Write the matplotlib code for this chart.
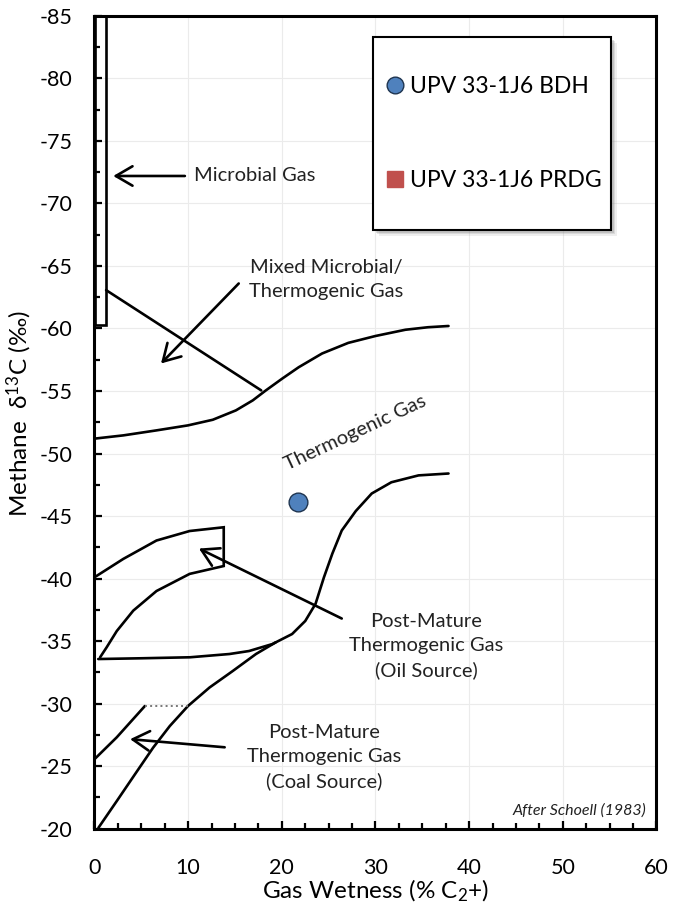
import matplotlib
matplotlib.use("Agg")
from matplotlib import pyplot as plt
from matplotlib.patches import Rectangle

plt.rcParams['font.family'] = ['Lato', 'DejaVu Sans']
plt.rcParams['mathtext.fontset'] = 'custom'
plt.rcParams['mathtext.rm'] = 'Lato'
plt.rcParams['mathtext.it'] = 'Lato:italic'
plt.rcParams['axes.unicode_minus'] = False

# sample points
bdh_x = [21.7]
bdh_y = [-46.1]
prdg_x = []
prdg_y = []

# Schoell (1983) field boundaries
microbial_x = [0.1, 0.1, 1.24, 1.24]
microbial_y = [-85, -60.3, -60.3, -85]

mixed_x = [1.24, 17.8]
mixed_y = [-63.07, -55.05]

upper_thermo_x = [0.0, 3.08, 6.62, 9.98, 12.63, 15.1, 16.9, 18.3, 20.06, 21.8, 24.3, 27.1,
                  30.0, 33.2, 35.6, 37.8]
upper_thermo_y = [-51.19, -51.45, -51.85, -52.25, -52.7, -53.45, -54.25, -55.05, -56.0, -56.9,
                  -58.0, -58.85, -59.4, -59.9, -60.1, -60.2]

oil_x = [0.4, 5.0, 10.2, 14.4, 16.5, 19.0, 21.1, 22.5, 23.6, 24.5, 25.4, 26.4, 27.9, 29.6,
         31.7, 34.6, 37.8]
oil_y = [-33.56, -33.62, -33.7, -33.96, -34.2, -34.76, -35.56, -36.6, -37.97, -40.1, -42.0,
         -43.84, -45.4, -46.8, -47.7, -48.25, -48.4]

coal_x = [0.42, 2.38, 4.32, 6.26, 8.04, 9.98, 12.28, 14.76, 17.24, 19.36]
coal_y = [-20.06, -22.2, -24.34, -26.47, -28.2, -29.8, -31.28, -32.6, -33.96, -34.9]

pm_oil_x = [0.0, 3.08, 6.62, 10.16, 13.8, 13.8, 10.16, 6.62, 4.14, 2.38, 1.3, 0.6]
pm_oil_y = [-40.1, -41.57, -43.04, -43.8, -44.1, -41.0, -40.37, -39.0, -37.43, -35.8, -34.5, -33.7]

pm_coal_x = [0.07, 2.38, 5.38]
pm_coal_y = [-25.6, -27.3, -29.8]
pm_coal_top_x = [5.38, 10.0]
pm_coal_top_y = [-29.8, -29.8]

# labels: (text, x, y)
labels = [
    ("Microbial Gas", 10.6, -72.2),
    ("Mixed Microbial/\nThermogenic Gas", 24.75, -63.9),
    ("Post-Mature\nThermogenic Gas\n(Oil Source)", 35.4, -34.6),
    ("Post-Mature\nThermogenic Gas\n(Coal Source)", 24.5, -25.7),
]
# arrows: (tail, tip)
arrows = [
    ((9.65, -72.2), (2.0, -72.2)),
    ((15.4, -63.6), (7.1, -57.2)),
    ((26.4, -36.8), (11.15, -42.4)),
    ((13.9, -26.5), (3.8, -27.15)),
]

fig = plt.figure(figsize=(6.73, 9.07), dpi=100)
ax = fig.add_axes([0.1404, 0.0865, 0.835, 0.8959])

lw = 1.9
line_kw = dict(color='k', lw=lw, solid_joinstyle='round', solid_capstyle='round')
ax.plot(microbial_x, microbial_y, clip_on=False, **dict(line_kw, solid_joinstyle='miter'))
ax.plot(mixed_x, mixed_y, **line_kw)
ax.plot(upper_thermo_x, upper_thermo_y, **line_kw)
ax.plot(oil_x, oil_y, **line_kw)
ax.plot(coal_x, coal_y, **line_kw)
ax.plot(pm_oil_x, pm_oil_y, **dict(line_kw, solid_joinstyle='miter'))
ax.plot(pm_coal_x, pm_coal_y, **line_kw)
ax.plot(pm_coal_top_x, pm_coal_top_y, color='#777777', lw=1.4, ls=':')

for (tail, tip) in arrows:
    ax.annotate('', xy=tip, xytext=tail,
                arrowprops=dict(arrowstyle='->,head_length=0.6,head_width=0.35',
                                lw=1.9, color='k', mutation_scale=20,
                                shrinkA=0, shrinkB=0))

ax.text(labels[0][1], labels[0][2], labels[0][0], fontsize=14.5, ha='left', va='center', color='#222222')
for (txt, x, y) in labels[1:]:
    ax.text(x, y, txt, fontsize=14.5, ha='center', va='center', multialignment='center',
            linespacing=1.5, color='#222222')
ax.text(27.9, -51.7, "Thermogenic Gas", fontsize=14.5, rotation=25, ha='center', va='center',
        rotation_mode='anchor', color='#222222')
ax.text(58.9, -21.4, "After Schoell (1983)", fontsize=11.5, style='italic', ha='right', va='center',
        color='#222222')

ax.plot(bdh_x, bdh_y, 'o', color='#4F81BD', mec='#1F3550', mew=1.0, ms=13.5,
        label='UPV 33-1J6 BDH', zorder=5)
ax.plot(prdg_x, prdg_y, 's', color='#C0504D', mec='#C0504D', ms=13.5,
        label='UPV 33-1J6 PRDG', zorder=5)

ax.set_xlim(0, 60)
ax.set_ylim(-20, -85)
ax.set_xticks(range(0, 61, 10))
ax.set_yticks(range(-85, -19, 5))
ax.set_xticks([x * 2.5 for x in range(25)], minor=True)
ax.set_yticks([-85 + y * 2.5 for y in range(27)], minor=True)
ax.tick_params(which='major', direction='in', length=6, width=1.6, labelsize=15.5,
               top=False, right=False)
ax.tick_params(which='minor', direction='in', length=4, width=1.6, top=False, right=False)
ax.tick_params(axis='x', pad=21)
ax.tick_params(axis='y', pad=16)
ax.grid(True, which='major', color='#ebebeb', lw=0.8)
ax.set_axisbelow(True)
for s in ax.spines.values():
    s.set_linewidth(2.2)

ax.set_xlabel("Gas Wetness (% C$_2$+)", fontsize=17.5, labelpad=0)
ax.set_ylabel("Methane  δ$^{13}$C (‰)", fontsize=17.5)
ax.yaxis.set_label_coords(-0.108, 0.51)

# legend box with a soft drop shadow
box = (0.4955, 0.7366, 0.4235, 0.2375)
for off, a in [(0.011, 0.12), (0.008, 0.18), (0.005, 0.25)]:
    ax.add_patch(Rectangle((box[0] + off, box[1] - off * 0.69), box[2], box[3],
                           transform=ax.transAxes, facecolor='#7a7a7a', edgecolor='none',
                           alpha=a, zorder=4.8))
ax.add_patch(Rectangle(box[:2], box[2], box[3], transform=ax.transAxes,
                       facecolor='white', edgecolor='k', lw=1.5, zorder=4.9))

leg = ax.legend(loc='center left', bbox_to_anchor=box, borderaxespad=0,
                fontsize=16.5, frameon=False,
                labelspacing=3.15, borderpad=0.3,
                handlelength=1.3, handletextpad=0.0, markerscale=0.89)
leg.set_zorder(5)

plt.savefig('out.png', dpi=100)
